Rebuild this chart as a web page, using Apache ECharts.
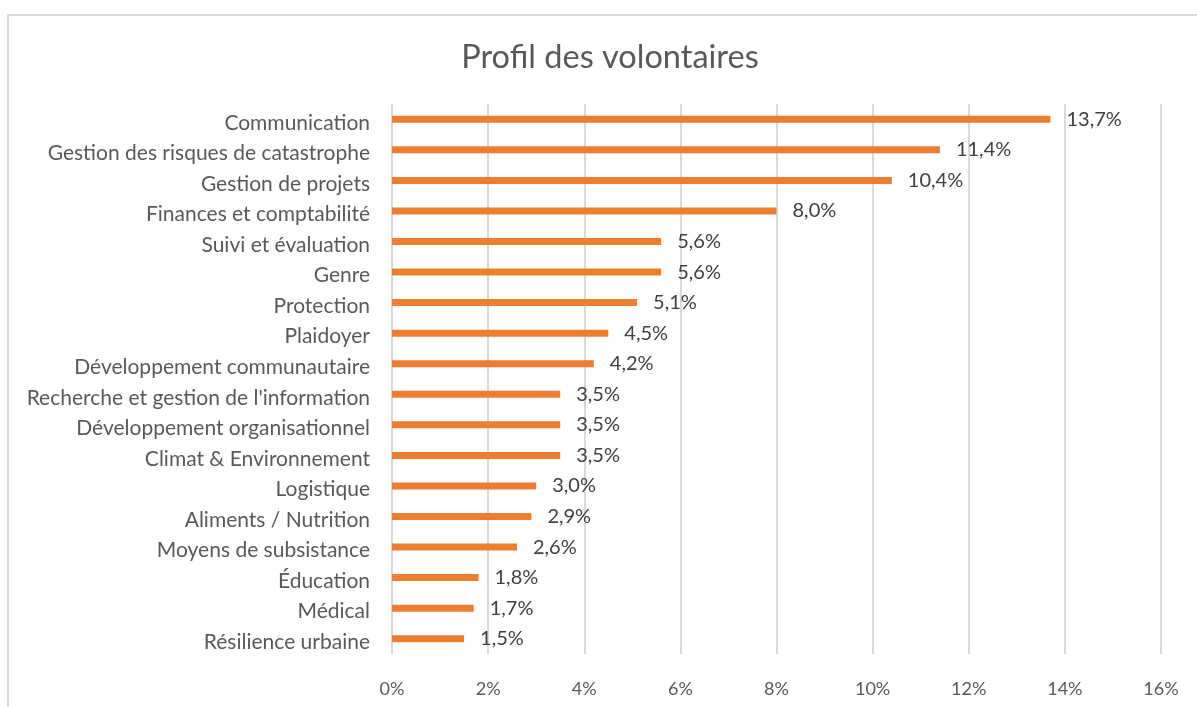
<!DOCTYPE html>
<html>
<head>
<meta charset="utf-8">
<script src="https://cdn.jsdelivr.net/npm/echarts@6/dist/echarts.min.js"></script>
<style>
  html, body { margin: 0; padding: 0; background: #fff; }
  #frame { position: absolute; left: 7px; top: 14px; width: 1300px; height: 800px;
           border-top: 2px solid #d9d9d9; border-left: 2px solid #d9d9d9; }
  #chart { position: absolute; left: 0; top: 0; width: 1197px; height: 707px; }
</style>
</head>
<body>
<div id="frame"></div>
<div id="chart"></div>
<script>
  // categories (top to bottom)
  const categories = [
    'Communication',
    'Gestion des risques de catastrophe',
    'Gestion de projets',
    'Finances et comptabilité',
    'Suivi et évaluation',
    'Genre',
    'Protection',
    'Plaidoyer',
    'Développement communautaire',
    "Recherche et gestion de l'information",
    'Développement organisationnel',
    'Climat & Environnement',
    'Logistique',
    'Aliments / Nutrition',
    'Moyens de subsistance',
    'Éducation',
    'Médical',
    'Résilience urbaine'
  ];
  // share of volunteers, %
  const values = [13.7, 11.4, 10.4, 8.0, 5.6, 5.6, 5.1, 4.5, 4.2, 3.5, 3.5, 3.5, 3.0, 2.9, 2.6, 1.8, 1.7, 1.5];
  const xTicks = [0, 2, 4, 6, 8, 10, 12, 14, 16];

  const font = 'Lato';
  const chart = echarts.init(document.getElementById('chart'));
  chart.setOption({
    animation: false,
    textStyle: { fontFamily: font },
    title: {
      text: 'Profil des volontaires',
      left: 605,
      top: 36,
      textAlign: 'center',
      textStyle: { fontFamily: font, fontSize: 32.5, fontWeight: 'normal', color: '#595959' }
    },
    grid: { left: 392, right: 36, top: 104, bottom: 53 },
    xAxis: {
      type: 'value',
      min: xTicks[0],
      max: xTicks[xTicks.length - 1],
      interval: 2,
      axisLine: { show: false },
      axisTick: { show: false },
      splitLine: { lineStyle: { color: '#d9d9d9', width: 2 } },
      axisLabel: {
        margin: 26,
        fontSize: 18,
        color: '#595959',
        fontFamily: font,
        formatter: v => v + '%'
      }
    },
    yAxis: {
      type: 'category',
      inverse: true,
      data: categories,
      axisLine: { show: false },
      axisTick: { show: false },
      axisLabel: {
        margin: 22,
        formatter: v => '{c|' + v + '}',
        rich: {
          c: { fontSize: 21, color: '#595959', fontFamily: font, padding: [7, 0, 0, 0] }
        }
      }
    },
    series: [{
      type: 'bar',
      data: values,
      barWidth: 7,
      itemStyle: { color: '#ED7D31' },
      label: {
        show: true,
        position: 'right',
        distance: 16,
        fontSize: 20,
        color: '#404040',
        fontFamily: font,
        formatter: p => p.value.toFixed(1).replace('.', ',') + '%'
      }
    }]
  });
</script>
</body>
</html>
